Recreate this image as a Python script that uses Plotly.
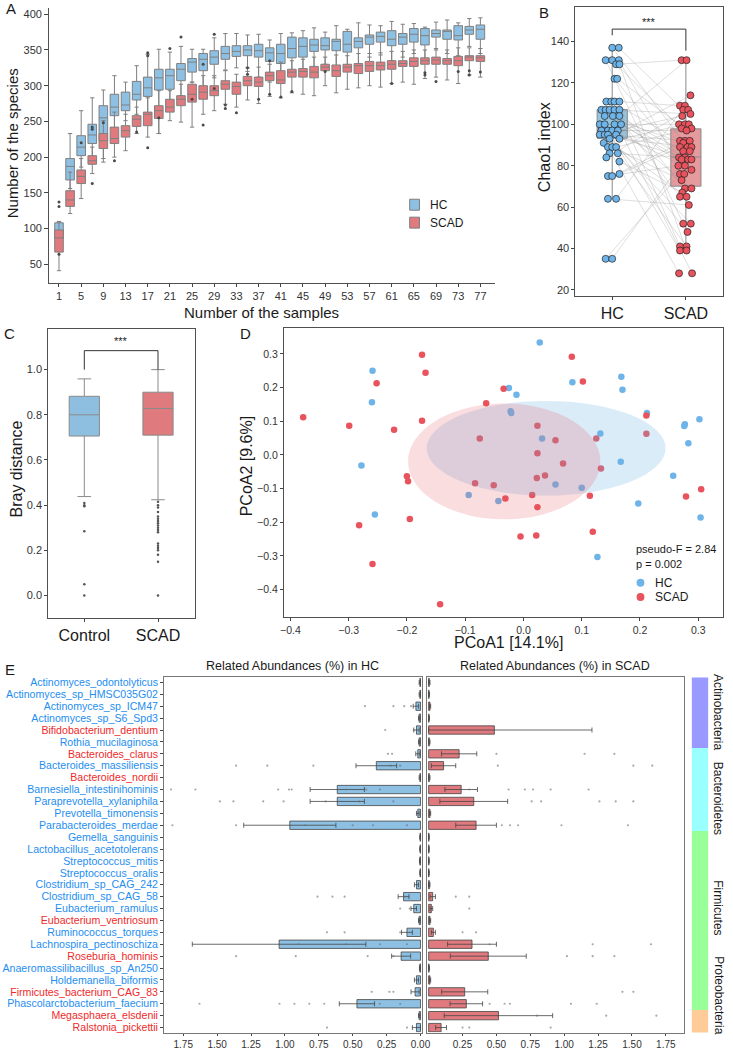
import plotly.graph_objects as go

W, H = 733, 1050
FONT = "Liberation Sans, Arial, sans-serif"
TEXT = "#1a1a1a"
TICK = "#333333"
EDGE = "#7f7f7f"
FRAME = "#505050"
HC_FILL = "#8DC0E3"
SCAD_FILL = "#E07A7E"
HC_DOT = "#6EB4E8"
SCAD_DOT = "#E8535D"
LABEL_BLUE = "#1E8EF0"
LABEL_RED = "#F02A2A"


def fx(px):
    return px / W


def fy(py):
    return 1 - py / H


# ---------------- A: species accumulation ----------------
n_samples = [1, 3, 5, 7, 9, 11, 13, 15, 17, 19, 21, 23, 25, 27, 29, 31, 33, 35, 37, 39,
             41, 43, 45, 47, 49, 51, 53, 55, 57, 59, 61, 63, 65, 67, 69, 71, 73, 75, 77]
a_ticks = [1, 5, 9, 13, 17, 21, 25, 29, 33, 37, 41, 45, 49, 53, 57, 61, 65, 69, 73, 77]
hc_med = [97, 187, 214, 231, 255, 270, 273, 288, 297, 311, 314, 323, 333, 337, 340, 345, 348, 350, 349, 346,
          345, 352, 355, 357, 356, 362, 358, 362, 368, 369, 365, 368, 372, 370, 373, 376, 370, 378, 379]
hc_q1 = [86, 168, 202, 219, 223, 258, 265, 280, 285, 294, 295, 307, 319, 321, 330, 337, 341, 342, 340, 334,
         331, 339, 340, 348, 350, 349, 347, 353, 358, 361, 356, 358, 361, 357, 368, 365, 364, 372, 365]
hc_q3 = [108, 198, 230, 246, 272, 288, 291, 306, 312, 323, 323, 331, 338, 345, 349, 355, 356, 356, 358, 353,
         358, 368, 367, 365, 367, 365, 376, 367, 371, 375, 377, 373, 380, 380, 378, 378, 384, 383, 385]
hc_lo = [75, 156, 186, 200, 193, 237, 251, 260, 258, 233, 274, 286, 305, 296, 311, 322, 325, 320, 312, 305,
         306, 315, 318, 325, 330, 318, 328, 330, 340, 343, 335, 340, 345, 338, 350, 345, 342, 355, 345]
hc_hi = [110, 233, 265, 283, 294, 314, 305, 328, 344, 351, 347, 355, 351, 351, 367, 373, 373, 371, 372, 364,
         373, 374, 377, 381, 375, 384, 379, 388, 385, 384, 390, 386, 387, 382, 389, 392, 388, 394, 395]
scad_med = [87, 140, 173, 195, 223, 226, 237, 253, 260, 265, 270, 281, 288, 291, 293, 302, 299, 307, 305, 314,
            308, 319, 320, 319, 326, 321, 326, 328, 328, 328, 330, 331, 334, 335, 336, 335, 335, 340, 339]
scad_q1 = [67, 131, 163, 190, 212, 219, 228, 243, 244, 254, 263, 272, 277, 281, 286, 295, 288, 300, 299, 307,
           303, 312, 312, 311, 321, 313, 319, 317, 320, 322, 323, 327, 327, 330, 330, 330, 328, 335, 334]
scad_q3 = [98, 153, 182, 202, 233, 242, 244, 258, 263, 272, 281, 286, 302, 300, 300, 307, 305, 313, 312, 319,
           321, 323, 324, 327, 330, 329, 330, 331, 334, 333, 335, 335, 339, 339, 340, 338, 341, 342, 342]
scad_lo = [41, 121, 142, 177, 198, 200, 209, 233, 228, 233, 251, 249, 242, 260, 265, 274, 270, 280, 275, 285,
           283, 290, 288, 286, 300, 290, 295, 297, 300, 298, 303, 305, 302, 310, 312, 308, 303, 315, 312]
scad_hi = [109, 179, 198, 214, 251, 263, 260, 270, 283, 293, 293, 302, 305, 314, 314, 321, 316, 325, 326, 330,
           333, 335, 337, 340, 340, 343, 342, 345, 345, 346, 348, 348, 350, 350, 352, 350, 353, 353, 352]
a_out_x = [1, 1, 1, 5, 7, 7, 7, 9, 11, 15, 17, 17, 17, 19, 21, 23, 25, 27, 27, 29, 29, 31, 31, 33,
           35, 35, 37, 39, 39, 41, 43, 49, 61, 67, 67, 69, 73, 75, 75, 77]
a_out_y = [137, 131, 64, 220, 242, 239, 163, 248, 195, 235, 346, 342, 213, 255, 352, 368, 281, 330, 245, 372,
           296, 273, 268, 262, 325, 316, 281, 335, 288, 284, 292, 320, 303, 315, 318, 306, 320, 321, 315, 319]

# ---------------- B: Chao1 ----------------
b_groups = ["HC", "SCAD"]
hc_chao1 = [137, 137, 131, 131, 131, 129, 129, 122, 122, 111, 111, 111, 111, 107, 107, 107, 107, 107,
            104, 104, 104, 100, 100, 100, 100, 97, 97, 97, 97, 95, 95, 95, 95, 93, 93, 91, 89, 89, 89,
            86, 86, 84, 82, 76, 75, 75, 64, 64, 35, 35]
hc_jit = [0, 0.089, -0.089, 0, 0.089, 0.053, 0.098, 0.031, 0.067, -0.08, -0.013, 0.031, 0.098,
          -0.147, -0.089, -0.036, 0.031, 0.098, -0.102, 0.009, 0.098, -0.169, -0.102, 0.031, 0.12,
          -0.147, -0.058, 0, 0.076, -0.169, -0.102, -0.058, 0.053, -0.036, 0.098, -0.116,
          -0.058, 0, 0.053, -0.036, 0.076, -0.08, 0.098, 0.098, -0.058, 0, -0.058, 0.053, -0.089, 0]
scad_chao1 = [131, 131, 114, 109, 109, 107, 107, 105, 104, 100, 100, 100, 98, 98, 97, 92, 92, 92, 91,
              89, 89, 89, 87, 87, 84, 84, 83, 83, 83, 80, 80, 78, 76, 76, 73, 69, 69, 67, 65, 65, 61,
              52, 52, 48, 41, 41, 39, 39, 28, 28]
scad_jit = [-0.058, 0.009, 0.062, -0.08, -0.013, -0.036, 0.031, 0.062, -0.049, -0.093, -0.013, 0.04,
            -0.058, 0.076, 0.009, -0.08, -0.013, 0.053, -0.036, -0.08, 0.022, 0.076, -0.036, 0.053,
            -0.093, -0.013, -0.058, 0.031, 0.076, -0.102, -0.013, 0.076, -0.08, -0.022, -0.058,
            -0.013, 0.076, -0.049, -0.08, 0.009, 0.04, -0.036, 0.067, 0.022, -0.08, 0.009, -0.08,
            0.009, -0.093, 0.084]
scad_pair = [20, 5, 41, 12, 33, 0, 47, 26, 9, 38, 15, 44, 3, 30, 22, 49, 7, 35, 18, 27,
             1, 43, 11, 36, 24, 14, 46, 31, 8, 39, 17, 28, 2, 42, 21, 10, 48, 34, 13, 25,
             45, 6, 37, 19, 29, 16, 40, 4, 32, 23]
b_q1 = [93.3, 70.1]
b_med = [97, 84.2]
b_q3 = [107.1, 97.8]
b_lo = [64, 39]
b_hi = [137, 131]

# ---------------- C: Bray distance ----------------
c_groups = ["Control", "SCAD"]
c_q1 = [0.706, 0.71]
c_med = [0.80, 0.828]
c_q3 = [0.882, 0.90]
c_lo = [0.438, 0.424]
c_hi = [0.959, 1.0]
c_out_ctrl = [0.41, 0.40, 0.395, 0.285, 0.05, 0.0]
c_out_scad = [0.415, 0.40, 0.39, 0.37, 0.35, 0.34, 0.33, 0.32, 0.31, 0.30, 0.29, 0.28,
              0.23, 0.22, 0.21, 0.20, 0.18, 0.15, 0.0]

# ---------------- D: PCoA ----------------
hc_pc1 = [0.028, -0.259, -0.025, 0.084, -0.012, 0.168, 0.170, -0.260, -0.022, -0.021, 0.212, 0.302,
          0.277, 0.276, 0.132, 0.032, 0.283, -0.278, 0.167, 0.257, 0.055, 0.100, -0.094, -0.043,
          0.197, -0.255, 0.304, 0.127]
hc_pc2 = [0.334, 0.250, 0.199, 0.216, 0.179, 0.232, 0.194, 0.157, 0.130, 0.125, 0.125, 0.106,
          0.091, 0.086, 0.064, 0.049, 0.035, -0.031, -0.020, -0.062, -0.088, -0.097, -0.119, -0.137,
          -0.144, -0.177, -0.186, -0.303]
scad_pc1 = [-0.174, 0.083, -0.168, -0.252, 0.102, -0.034, -0.064, -0.378, -0.299, -0.174,
            0.211, -0.222, 0.024, -0.075, 0.125, 0.211, 0.055, 0.024, 0.068, 0.133,
            -0.200, -0.198, 0.037, 0.023, -0.083, -0.051, -0.031, 0.015, 0.114, 0.279,
            0.305, 0.024, -0.195, -0.282, 0.119, -0.005, 0.022, -0.259, -0.143]
scad_pc2 = [0.298, 0.292, 0.244, 0.213, 0.218, 0.197, 0.154, 0.112, 0.087, 0.102,
            0.117, 0.075, 0.087, 0.049, 0.049, 0.063, 0.044, 0.005, -0.025, -0.040,
            -0.063, -0.078, -0.061, -0.068, -0.084, -0.090, -0.129, -0.119, -0.121, -0.123,
            -0.102, -0.155, -0.190, -0.209, -0.228, -0.242, -0.239, -0.324, -0.443]
# ellipse centre (x, y) and half-axes (x, y)
hc_ellipse = (0.039, 0.020, 0.205, 0.1405)
scad_ellipse = (-0.033, -0.019, 0.165, 0.172)

# ---------------- E: differential species ----------------
species = ["Actinomyces_odontolyticus", "Actinomyces_sp_HMSC035G02", "Actinomyces_sp_ICM47",
           "Actinomyces_sp_S6_Spd3", "Bifidobacterium_dentium", "Rothia_mucilaginosa",
           "Bacteroides_clarus", "Bacteroides_massiliensis", "Bacteroides_nordii",
           "Barnesiella_intestinihominis", "Paraprevotella_xylaniphila", "Prevotella_timonensis",
           "Parabacteroides_merdae", "Gemella_sanguinis", "Lactobacillus_acetotolerans",
           "Streptococcus_mitis", "Streptococcus_oralis", "Clostridium_sp_CAG_242",
           "Clostridium_sp_CAG_58", "Eubacterium_ramulus", "Eubacterium_ventriosum",
           "Ruminococcus_torques", "Lachnospira_pectinoschiza", "Roseburia_hominis",
           "Anaeromassilibacillus_sp_An250", "Holdemanella_biformis", "Firmicutes_bacterium_CAG_83",
           "Phascolarctobacterium_faecium", "Megasphaera_elsdenii", "Ralstonia_pickettii"]
enriched_in = ["HC", "HC", "HC", "HC", "SCAD", "HC", "SCAD", "HC", "SCAD", "HC",
               "HC", "HC", "HC", "HC", "HC", "HC", "HC", "HC", "HC", "HC",
               "SCAD", "HC", "HC", "SCAD", "HC", "HC", "SCAD", "HC", "SCAD", "SCAD"]
phylum = ["Actinobacteria"] * 6 + ["Bacteroidetes"] * 7 + ["Firmicutes"] * 15 + ["Proteobacteria"] * 2
phyla = ["Actinobacteria", "Bacteroidetes", "Firmicutes", "Proteobacteria"]
phylum_colors = ["#9999FF", "#99FFFF", "#99FF99", "#FFCC99"]
hc_mean = [0.005, 0.005, 0.034, 0.01, 0.03, 0.01, 0.02, 0.326, 0.005, 0.614,
           0.614, 0.02, 0.964, 0.003, 0.003, 0.005, 0.003, 0.03, 0.125, 0.05,
           0.01, 0.1, 1.043, 0.143, 0.005, 0.03, 0.04, 0.469, 0.01, 0.03]
hc_se = [0.005, 0.005, 0.02, 0.005, 0.02, 0.005, 0.015, 0.15, 0.005, 0.2,
         0.2, 0.01, 0.34, 0.003, 0.003, 0.003, 0.003, 0.015, 0.04, 0.02,
         0.005, 0.04, 0.64, 0.07, 0.003, 0.015, 0.03, 0.13, 0.005, 0.03]
scad_mean = [0.005, 0.003, 0.01, 0.003, 0.485, 0.005, 0.225, 0.11, 0.005, 0.24,
             0.333, 0.01, 0.35, 0.002, 0.002, 0.002, 0.002, 0.005, 0.03, 0.02,
             0.01, 0.035, 0.32, 0.44, 0.003, 0.01, 0.266, 0.278, 0.515, 0.092]
scad_se = [0.005, 0.003, 0.005, 0.003, 0.72, 0.005, 0.13, 0.09, 0.005, 0.12,
           0.25, 0.005, 0.15, 0.002, 0.002, 0.002, 0.002, 0.005, 0.02, 0.01,
           0.005, 0.015, 0.18, 0.28, 0.003, 0.005, 0.17, 0.12, 0.4, 0.04]
hc_dot_row = [2, 2, 2, 2, 4, 4, 6, 6, 7, 7, 7, 7, 7, 9, 9, 9, 9, 9, 9, 9, 9,
              10, 10, 10, 10, 10, 10, 10, 12, 12, 12, 12, 12, 12, 18, 18, 18, 18, 19, 19,
              21, 21, 21, 22, 22, 22, 22, 23, 23, 23, 23, 26, 26, 26,
              27, 27, 27, 27, 27, 27, 27, 29, 29]
hc_dot_val = [0.41, 0.2, 0.12, 0.07, 0.26, 0.05, 0.24, 0.21, 1.36, 1.13, 0.79, 0.22, 0.15,
              1.84, 1.66, 1.05, 0.97, 0.95, 0.55, 0.4, 0.3,
              1.48, 1.38, 1.16, 1.01, 0.7, 0.45, 0.2, 1.83, 1.36, 0.85, 0.5, 0.35, 0.1,
              0.76, 0.65, 0.56, 0.12, 0.15, 0.08, 0.69, 0.56, 0.15, 0.9, 0.55, 0.3, 0.1,
              1.36, 0.92, 0.39, 0.2, 0.36, 0.23, 0.20,
              1.63, 1.04, 0.93, 0.82, 0.71, 0.3, 0.15, 0.69, 0.1]
scad_dot_row = [6, 6, 6, 7, 7, 7, 9, 9, 9, 9, 9, 9, 10, 10, 10, 10, 10, 12, 12, 12, 12, 12,
                18, 18, 19, 21, 21, 22, 22, 22, 23, 23, 23, 26, 26, 27, 27, 27, 27, 27,
                28, 28, 28, 29, 29, 29]
scad_dot_val = [1.15, 1.37, 0.50, 0.51, 1.51, 1.65, 0.59, 0.71, 0.77, 0.9, 1.18, 0.3,
                0.76, 0.83, 1.26, 1.38, 1.51, 0.54, 0.6, 0.66, 0.98, 1.47,
                0.3, 0.2, 0.3, 0.35, 0.25, 1.21, 1.64, 0.45, 1.02, 1.21, 1.37, 1.43, 1.51,
                0.45, 0.56, 0.6, 1.05, 1.24, 1.31, 1.68, 0.8, 0.9, 0.3, 0.25]
e_ticks = [0, 0.25, 0.5, 0.75, 1.0, 1.25, 1.5, 1.75]

fig = go.Figure()

# A
for name, q1, med, q3, lo, hi, fill in (
        ("HC", hc_q1, hc_med, hc_q3, hc_lo, hc_hi, HC_FILL),
        ("SCAD", scad_q1, scad_med, scad_q3, scad_lo, scad_hi, SCAD_FILL)):
    fig.add_trace(go.Box(x=n_samples, q1=q1, median=med, q3=q3, lowerfence=lo, upperfence=hi,
                         name=name, width=1.55, whiskerwidth=0.5, boxpoints=False,
                         fillcolor=fill, line=dict(color=EDGE, width=1),
                         xaxis="x", yaxis="y"))
fig.add_trace(go.Scatter(x=a_out_x, y=a_out_y, mode="markers",
                         marker=dict(size=3, color="#4a4a4a"), xaxis="x", yaxis="y"))

# B
for i, fill in enumerate(["#96C6DF", "#E59B9D"]):
    fig.add_trace(go.Box(x=[i], q1=[b_q1[i]], median=[b_med[i]], q3=[b_q3[i]],
                         lowerfence=[b_lo[i]], upperfence=[b_hi[i]], width=0.41, whiskerwidth=0,
                         boxpoints=False, fillcolor=fill, line=dict(color="#8a8a8a", width=1),
                         xaxis="x2", yaxis="y2"))
lx, ly = [], []
for i, p in enumerate(scad_pair):
    lx += [0 + hc_jit[i], 1 + scad_jit[p], None]
    ly += [hc_chao1[i], scad_chao1[p], None]
fig.add_trace(go.Scatter(x=lx, y=ly, mode="lines", line=dict(color="rgba(150,150,150,0.45)", width=0.7),
                         xaxis="x2", yaxis="y2"))
fig.add_trace(go.Scatter(x=[0 + j for j in hc_jit], y=hc_chao1, mode="markers",
                         marker=dict(size=7, color=HC_DOT, line=dict(color="#222", width=0.7)),
                         xaxis="x2", yaxis="y2"))
fig.add_trace(go.Scatter(x=[1 + j for j in scad_jit], y=scad_chao1, mode="markers",
                         marker=dict(size=7, color=SCAD_DOT, line=dict(color="#222", width=0.7)),
                         xaxis="x2", yaxis="y2"))

# C
for i, fill in enumerate(["#8EBFE0", "#DF7B7E"]):
    fig.add_trace(go.Box(x=[i], q1=[c_q1[i]], median=[c_med[i]], q3=[c_q3[i]],
                         lowerfence=[c_lo[i]], upperfence=[c_hi[i]], width=0.41, whiskerwidth=0.45,
                         boxpoints=False, fillcolor=fill, line=dict(color="#8a8a8a", width=1),
                         xaxis="x3", yaxis="y3"))
fig.add_trace(go.Scatter(x=[0] * len(c_out_ctrl) + [1] * len(c_out_scad), y=c_out_ctrl + c_out_scad,
                         mode="markers", marker=dict(size=2.5, color="#555"), xaxis="x3", yaxis="y3"))

# D
fig.add_trace(go.Scatter(x=hc_pc1, y=hc_pc2, mode="markers", marker=dict(size=6.5, color=HC_DOT),
                         xaxis="x4", yaxis="y4"))
fig.add_trace(go.Scatter(x=scad_pc1, y=scad_pc2, mode="markers", marker=dict(size=6.5, color=SCAD_DOT),
                         xaxis="x4", yaxis="y4"))

# E
rows = list(range(len(species)))
for mean, se, fill, xa, ya in ((hc_mean, hc_se, HC_FILL, "x5", "y5"),
                               (scad_mean, scad_se, SCAD_FILL, "x6", "y6")):
    fig.add_trace(go.Bar(x=mean, y=rows, orientation="h", width=0.7,
                         marker=dict(color=fill, line=dict(color="#444", width=0.8)),
                         error_x=dict(type="data", array=se, arrayminus=[min(s, m) for s, m in zip(se, mean)],
                                      color="#444", thickness=0.8, width=2.5),
                         xaxis=xa, yaxis=ya))
fig.add_trace(go.Scatter(x=hc_dot_val, y=hc_dot_row, mode="markers",
                         marker=dict(size=2.2, color="rgba(110,110,110,0.6)"), xaxis="x5", yaxis="y5"))
fig.add_trace(go.Scatter(x=scad_dot_val, y=scad_dot_row, mode="markers",
                         marker=dict(size=2.2, color="rgba(110,110,110,0.6)"), xaxis="x6", yaxis="y6"))
codes = [phyla.index(p) for p in phylum]
scale = []
for k, c in enumerate(phylum_colors):
    scale += [[k / 4, c], [(k + 1) / 4, c]]
fig.add_trace(go.Heatmap(z=[[c] for c in codes], x=[0], y=rows, colorscale=scale, zmin=-0.5, zmax=3.5,
                         showscale=False, xaxis="x7", yaxis="y7", hoverinfo="skip"))


def axis(domain, rng, anchor, **kw):
    d = dict(domain=domain, range=rng, anchor=anchor, showgrid=False, zeroline=False,
             showline=True, linecolor=FRAME, linewidth=1, ticks="outside", ticklen=3,
             tickwidth=0.8, tickcolor="#444", tickfont=dict(size=11, color=TICK, family=FONT))
    d.update(kw)
    return d


tick_text = [f'<span style="color:{LABEL_BLUE if g == "HC" else LABEL_RED}">{s}</span>'
             for s, g in zip(species, enriched_in)]
e_ydom = [fy(1035.5), fy(679)]
e_font = dict(size=10, color=TICK, family=FONT)

layout_axes = dict(
    xaxis=axis([fx(46), fx(500)], [-0.77, 79.66], "y", tickvals=a_ticks, ticklen=3),
    yaxis=axis([fy(282.7), fy(7)], [24.3, 408.8], "x", tickvals=list(range(50, 401, 50)), ticklen=4),
    xaxis2=axis([fx(581.7), fx(731.7)], [-0.5, 1.5], "y2", tickvals=[0, 1], ticktext=b_groups,
                mirror=True, tickfont=dict(size=16, color=TEXT, family=FONT)),
    yaxis2=axis([fy(296), fy(6)], [17.1, 156.7], "x2", tickvals=list(range(20, 141, 20)), mirror=True),
    xaxis3=axis([fx(45), fx(194.3)], [-0.49, 1.5], "y3", tickvals=[0, 1], ticktext=c_groups,
                mirror=True, tickfont=dict(size=16, color=TEXT, family=FONT)),
    yaxis3=axis([fy(619), fy(329)], [-0.098, 1.181], "x3", tickvals=[0, 0.2, 0.4, 0.6, 0.8, 1.0],
                tickformat=".1f", mirror=True),
    xaxis4=axis([fx(285), fx(731.7)], [-0.411, 0.342], "y4",
                tickvals=[-0.4, -0.3, -0.2, -0.1, 0, 0.1, 0.2, 0.3], tickformat=".1f", mirror=True,
                tickfont=dict(size=10.5, color=TICK, family=FONT)),
    yaxis4=axis([fy(618.3), fy(328.3)], [-0.481, 0.377], "x4",
                tickvals=[-0.4, -0.3, -0.2, -0.1, 0, 0.1, 0.2, 0.3], tickformat=".1f", mirror=True,
                tickfont=dict(size=10.5, color=TICK, family=FONT)),
    xaxis5=axis([fx(163), fx(425.7)], [1.891, -0.012], "y5", tickvals=e_ticks, tickformat=".2f",
                mirror=True, linecolor="#777", ticklen=2, tickfont=e_font),
    yaxis5=axis(e_ydom, [29.42, -0.42], "x5", tickvals=rows, ticktext=tick_text, mirror=True,
                linecolor="#777", tickfont=dict(size=10.6, family=FONT)),
    xaxis6=axis([fx(430.3), fx(692.3)], [-0.0145, 1.884], "y6", tickvals=e_ticks[1:], tickformat=".2f",
                mirror=True, linecolor="#777", ticklen=2, tickfont=e_font),
    yaxis6=axis(e_ydom, [29.42, -0.42], "x6", showticklabels=False, ticks="", mirror=True,
                linecolor="#777"),
    xaxis7=dict(domain=[fx(700), fx(717)], anchor="y7", visible=False, range=[-0.5, 0.5]),
    yaxis7=dict(domain=e_ydom, anchor="x7", visible=False, range=[29.42, -0.42]),
)

ann = []


def text(px, py, s, size, xanchor="center", **kw):
    ann.append(dict(x=fx(px), y=fy(py), xref="paper", yref="paper", text=s, showarrow=False,
                    xanchor=xanchor, yanchor="middle",
                    font=dict(size=size, color=TEXT, family=FONT), **kw))


for letter, px, py in (("A", 7, 8), ("B", 550, 12), ("C", 6, 334), ("D", 246, 334), ("E", 6, 671)):
    text(px, py, letter, 15)
text(9, 143, "Number of the species", 15, textangle=-90)
text(262, 312.5, "Number of the samples", 15)
text(550.5, 147, "Chao1 index", 16, textangle=-90)
text(12.5, 470, "Bray distance", 16, textangle=-90)
text(246.5, 467, "PCoA2 [9.6%]", 16, textangle=-90)
text(514, 644, "PCoA1 [14.1%]", 16)
text(294, 668, "Related Abundances (%) in HC", 12.5)
text(561, 668, "Related Abundances (%) in SCAD", 12.5)
text(641.7, 550, "pseudo-F = 2.84", 11, xanchor="left")
text(641.7, 564.7, "p = 0.002", 11, xanchor="left")
text(661, 584, "HC", 12, xanchor="left")
text(661, 598.3, "SCAD", 12, xanchor="left")
text(432, 204.5, "HC", 12, xanchor="left")
text(432, 222.5, "SCAD", 12, xanchor="left")

for name, r in zip(phyla, [2.5, 9.7, 18.9, 26.3]):
    ann.append(dict(x=fx(727), y=r, xref="paper", yref="y7", text=name, showarrow=False, textangle=90,
                    xanchor="center", yanchor="middle", font=dict(size=12, color=TEXT, family=FONT)))

# significance brackets
b_top = max(hc_chao1) + 9
ann.append(dict(x=0.5, y=b_top + 3.5, xref="x2", yref="y2", text="***", showarrow=False,
                xanchor="center", yanchor="middle", font=dict(size=11, color=TEXT, family=FONT)))
c_top = max(c_hi) + 0.084
ann.append(dict(x=0.5, y=c_top + 0.041, xref="x3", yref="y3", text="***", showarrow=False,
                xanchor="center", yanchor="middle", font=dict(size=11, color=TEXT, family=FONT)))

shapes = [
    dict(type="path", xref="x2", yref="y2", line=dict(color="#333", width=1),
         path=f"M 0,{max(hc_chao1) + 6} L 0,{b_top} L 1,{b_top} L 1,{max(scad_chao1) + 4.6}"),
    dict(type="path", xref="x3", yref="y3", line=dict(color="#333", width=1),
         path=f"M 0,{max(c_hi)} L 0,{c_top} L 1,{c_top} L 1,{max(c_hi)}"),
]
for (cx, cy, rx, ry), col, op in ((hc_ellipse, HC_DOT, 0.25), (scad_ellipse, SCAD_DOT, 0.2)):
    shapes.append(dict(type="circle", xref="x4", yref="y4", x0=cx - rx, x1=cx + rx, y0=cy - ry,
                       y1=cy + ry, fillcolor=col, opacity=op, line=dict(width=0), layer="above"))
# legends
for py, col in ((584, HC_DOT), (598.3, SCAD_DOT)):
    shapes.append(dict(type="circle", xref="paper", yref="paper", x0=fx(644), x1=fx(652),
                       y0=fy(py + 4), y1=fy(py - 4), fillcolor=col, line=dict(width=0)))
for py, col in ((199, HC_FILL), (217, SCAD_FILL)):
    shapes.append(dict(type="rect", xref="paper", yref="paper", x0=fx(413), x1=fx(423),
                       y0=fy(py + 11), y1=fy(py), fillcolor=col, line=dict(color=EDGE, width=1)))

fig.update_layout(
    width=W, height=H, autosize=False, margin=dict(l=0, r=0, t=0, b=0),
    paper_bgcolor="white", plot_bgcolor="white", showlegend=False, boxmode="overlay",
    font=dict(family=FONT, color=TEXT), annotations=ann, shapes=shapes, **layout_axes,
)

# drop the default page margin so the figure sits at the window's top-left corner
fig.write_html("out.html", config={"displayModeBar": False},
               post_script="document.body.style.margin='0';document.body.style.overflow='hidden';")
